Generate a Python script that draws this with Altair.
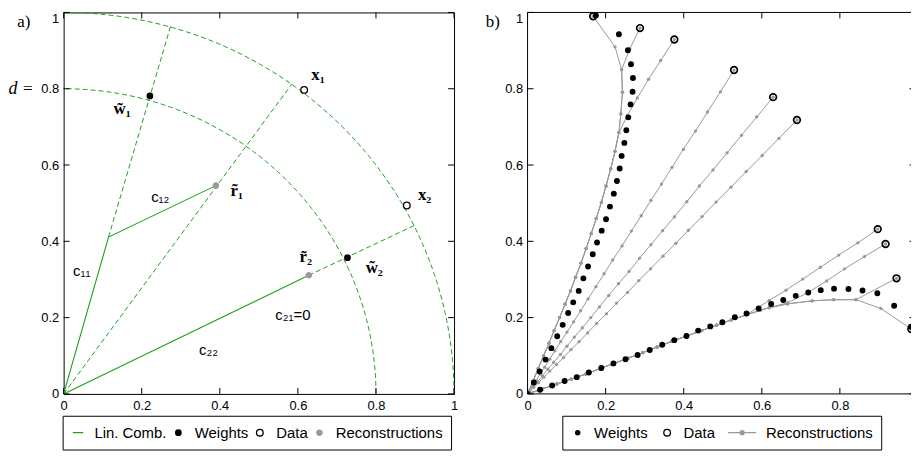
import altair as alt
import numpy as np
import pandas as pd

TICKS = [0, 0.2, 0.4, 0.6, 0.8, 1.0]
TICKS_B_X = [0, 0.2, 0.4, 0.6, 0.8]

# ---------------- panel a values ----------------
A_SERIES = ["Lin. Comb.", "Weights", "Data", "Reconstructions"]
a_weight_x = [0.221, 0.727]
a_weight_y = [0.781, 0.357]
a_data_x = [0.616, 0.879]
a_data_y = [0.797, 0.494]
a_recon_x = [0.390, 0.628]
a_recon_y = [0.546, 0.311]
# solid linear-combination paths
a_comb1_x = [0.0, 0.115, 0.390]
a_comb1_y = [0.0, 0.411, 0.546]
a_comb2_x = [0.0, 0.628]
a_comb2_y = [0.0, 0.311]
# dashed construction rays
a_ray1_x = [0.115, 0.274]
a_ray1_y = [0.411, 0.964]
a_ray2_x = [0.0, 0.585]
a_ray2_y = [0.0, 0.813]
a_ray3_x = [0.628, 0.899]
a_ray3_y = [0.311, 0.442]
a_arc_radii = [0.8, 1.0]

# ---------------- panel b values ----------------
B_SERIES = ["Weights", "Data", "Reconstructions"]
b_wsteep_x = [0, 0.016, 0.031, 0.046, 0.061, 0.076, 0.090, 0.104, 0.117, 0.131, 0.143,
              0.155, 0.167, 0.178, 0.190, 0.201, 0.211, 0.221, 0.229, 0.236, 0.241,
              0.248, 0.253, 0.258, 0.264, 0.269, 0.270, 0.265, 0.257, 0.234, 0.175]
b_wsteep_y = [0, 0.030, 0.059, 0.090, 0.120, 0.151, 0.181, 0.212, 0.240, 0.270, 0.303,
              0.334, 0.366, 0.397, 0.428, 0.458, 0.491, 0.525, 0.558, 0.591, 0.624,
              0.658, 0.691, 0.725, 0.759, 0.792, 0.828, 0.864, 0.901, 0.943, 0.992]
b_wflat_x = [0.032, 0.063, 0.095, 0.126, 0.157, 0.189, 0.220, 0.251, 0.282, 0.313,
             0.345, 0.376, 0.407, 0.437, 0.468, 0.499, 0.531, 0.561, 0.592, 0.624,
             0.655, 0.687, 0.719, 0.751, 0.785, 0.822, 0.858, 0.896, 0.939, 0.982]
b_wflat_y = [0.011, 0.022, 0.034, 0.044, 0.056, 0.068, 0.080, 0.091, 0.102, 0.115,
             0.129, 0.141, 0.152, 0.166, 0.177, 0.188, 0.201, 0.211, 0.224, 0.236,
             0.246, 0.257, 0.266, 0.272, 0.276, 0.275, 0.271, 0.264, 0.231, 0.176]
b_data_x = [0.168, 0.288, 0.376, 0.529, 0.629, 0.690, 0.897, 0.917, 0.945, 0.983]
b_data_y = [0.990, 0.959, 0.929, 0.849, 0.778, 0.718, 0.432, 0.393, 0.303, 0.170]

# shared tails of the reconstruction paths
b_tail_steep_x = [0.241, 0.243, 0.239, 0.234, 0.224, 0.213, 0.201, 0.189, 0.176, 0.163, 0.150,
                  0.137, 0.123, 0.110, 0.096, 0.082, 0.068, 0.055, 0.041, 0.027, 0.014, 0.0]
b_tail_steep_y = [0.850, 0.791, 0.734, 0.685, 0.636, 0.590, 0.545, 0.502, 0.460, 0.420, 0.381,
                  0.343, 0.306, 0.270, 0.235, 0.200, 0.166, 0.133, 0.100, 0.066, 0.033, 0.0]
b_tail_flat_x = [0.841, 0.784, 0.729, 0.666, 0.619, 0.596, 0.560, 0.522, 0.484, 0.446, 0.408,
                 0.370, 0.332, 0.295, 0.258, 0.221, 0.185, 0.149, 0.112, 0.075, 0.038, 0.0]
b_tail_flat_y = [0.247, 0.247, 0.244, 0.236, 0.226, 0.219, 0.207, 0.194, 0.180, 0.166, 0.152,
                 0.138, 0.123, 0.108, 0.094, 0.080, 0.066, 0.052, 0.039, 0.026, 0.013, 0.0]

b_paths = {
    "p1": ([0.168, 0.224] + b_tail_steep_x, [0.990, 0.910] + b_tail_steep_y),
    "p2": ([0.288, 0.262] + b_tail_steep_x, [0.959, 0.905] + b_tail_steep_y),
    "p3": ([0.376, 0.341, 0.310, 0.281, 0.256] + b_tail_steep_x[3:],
           [0.929, 0.874, 0.825, 0.776, 0.730] + b_tail_steep_y[3:]),
    "p4": ([0.529, 0.494, 0.461, 0.430, 0.399, 0.370, 0.343, 0.316, 0.291, 0.266, 0.242, 0.218, 0.196,
            0.175, 0.155, 0.136, 0.118, 0.101, 0.085, 0.070, 0.057, 0.044, 0.032, 0.022, 0.012, 0.004, 0.0],
           [0.849, 0.792, 0.739, 0.689, 0.641, 0.594, 0.550, 0.507, 0.467, 0.427, 0.388, 0.351, 0.315,
            0.281, 0.249, 0.218, 0.189, 0.162, 0.137, 0.113, 0.091, 0.070, 0.052, 0.035, 0.020, 0.007, 0.0]),
    "p5": ([0.629, 0.587, 0.548, 0.511, 0.475, 0.440, 0.408, 0.376, 0.346, 0.316, 0.287, 0.260, 0.233,
            0.208, 0.184, 0.162, 0.140, 0.120, 0.101, 0.084, 0.067, 0.052, 0.038, 0.026, 0.014, 0.005, 0.0],
           [0.778, 0.726, 0.678, 0.632, 0.587, 0.545, 0.504, 0.464, 0.428, 0.391, 0.356, 0.321, 0.289,
            0.258, 0.228, 0.200, 0.173, 0.149, 0.125, 0.103, 0.083, 0.065, 0.047, 0.032, 0.018, 0.006, 0.0]),
    "p6": ([0.690, 0.644, 0.601, 0.560, 0.521, 0.483, 0.447, 0.412, 0.380, 0.347, 0.315, 0.285, 0.256,
            0.228, 0.202, 0.177, 0.154, 0.132, 0.111, 0.092, 0.074, 0.057, 0.042, 0.028, 0.016, 0.006, 0.0],
           [0.718, 0.670, 0.625, 0.583, 0.542, 0.503, 0.465, 0.429, 0.395, 0.361, 0.328, 0.297, 0.266,
            0.238, 0.210, 0.185, 0.160, 0.137, 0.116, 0.095, 0.077, 0.060, 0.044, 0.029, 0.017, 0.006, 0.0]),
    "p7": ([0.897, 0.846, 0.797, 0.750, 0.705, 0.662, 0.619] + b_tail_flat_x[6:],
           [0.432, 0.396, 0.364, 0.332, 0.301, 0.272, 0.245] + b_tail_flat_y[6:]),
    "p8": ([0.917, 0.863, 0.812, 0.766, 0.717, 0.666] + b_tail_flat_x[4:],
           [0.393, 0.360, 0.328, 0.296, 0.265, 0.239] + b_tail_flat_y[4:]),
    "p9": ([0.945] + b_tail_flat_x, [0.303] + b_tail_flat_y),
    "p10": ([0.983, 0.905] + b_tail_flat_x, [0.170, 0.224] + b_tail_flat_y),
}

# ---------------- styling ----------------
GREEN = "#1f9f1f"
GRAY = "#999999"
SANS = "Liberation Sans"
SERIF = "Liberation Serif"
UNIT = 393          # pixels per data unit in x
W_A, W_B, H = 393, 386, 384
XMAX_B = W_B / UNIT
TICK_LEN = 6

SC_Y = alt.Scale(domain=[0, 1], nice=False, zero=False)
SC_XA = alt.Scale(domain=[0, 1], nice=False, zero=False)
SC_XB = alt.Scale(domain=[0, XMAX_B], nice=False, zero=False)
AX_XA = alt.Axis(values=TICKS, format="~g", ticks=False, domain=False, grid=False, title=None,
                 labelFlush=False, labelOverlap=False, labelPadding=6)
AX_XB = alt.Axis(values=TICKS_B_X, format="~g", ticks=False, domain=False, grid=False, title=None,
                 labelFlush=False, labelOverlap=False, labelPadding=6)
AX_Y = alt.Axis(values=TICKS, format="~g", ticks=False, domain=False, grid=False, title=None,
                labelOverlap=False, labelPadding=5, labelFlush=False,
                labelBaseline={"condition": {"test": "datum.value == 1", "value": "top"},
                               "value": "middle"})


def make_pos(sc_x, ax_x):
    def X(f="x"):
        return alt.X(f"{f}:Q", scale=sc_x, axis=ax_x)

    def XD(v):
        return alt.XDatum(v, type="quantitative", scale=sc_x, axis=ax_x)
    return X, XD


def Y(f="y"):
    return alt.Y(f"{f}:Q", scale=SC_Y, axis=AX_Y)


def YD(v):
    return alt.YDatum(v, type="quantitative", scale=SC_Y, axis=AX_Y)


XA, XDA = make_pos(SC_XA, AX_XA)
XB, XDB = make_pos(SC_XB, AX_XB)

ONE = pd.DataFrame({"k": [0]})


def note(text, x, y, dx, dy, font=SERIF, size=17, weight="bold"):
    return alt.Chart(ONE).mark_text(
        text=text, dx=dx, dy=dy, font=font, fontSize=size, fontWeight=weight,
        color="black", align="center", baseline="middle"
    ).encode(x=XDA(x), y=YD(y))


def pix_note(text, px, py, size=17):
    return alt.Chart(ONE).mark_text(
        text=text, font=SERIF, fontSize=size, color="black",
        align="center", baseline="middle"
    ).encode(x=alt.value(px), y=alt.value(py))


def frame_ticks(X, width, xticks, right_len):
    """Inward-pointing frame ticks on all four sides (gnuplot style)."""
    tx = pd.DataFrame({"x": xticks})
    ty = pd.DataFrame({"y": TICKS})
    rule = dict(color="black", strokeWidth=1)
    return [
        alt.Chart(tx).mark_rule(**rule).encode(x=X(), y=alt.value(0), y2=alt.value(TICK_LEN)),
        alt.Chart(tx).mark_rule(**rule).encode(x=X(), y=alt.value(H - TICK_LEN), y2=alt.value(H)),
        alt.Chart(ty).mark_rule(**rule).encode(y=Y(), x=alt.value(0), x2=alt.value(TICK_LEN)),
        alt.Chart(ty).mark_rule(**rule).encode(y=Y(), x=alt.value(width - right_len),
                                               x2=alt.value(width)),
    ]


def legend(lx, ly, pad, colpad):
    return alt.Legend(title=None, orient="none", legendX=lx, legendY=ly, direction="horizontal",
                      strokeColor="black", fillColor="white", padding=pad, columnPadding=colpad,
                      labelFont=SANS, labelFontSize=15, labelColor="black", labelOffset=9,
                      symbolStrokeWidth=1.3, clipHeight=18)


def series_enc(domain, strokes, fills, shapes, sizes, leg):
    return dict(
        stroke=alt.Stroke("series:N", scale=alt.Scale(domain=domain, range=strokes), legend=leg),
        fill=alt.Fill("series:N", scale=alt.Scale(domain=domain, range=fills), legend=leg),
        shape=alt.Shape("series:N", scale=alt.Scale(domain=domain, range=shapes), legend=leg),
        size=alt.Size("series:N", scale=alt.Scale(type="ordinal", domain=domain, range=sizes),
                      legend=leg),
    )


# ================= panel a =================
leg_a = legend(-1, 406, 8, 4)
a_strokes = [GREEN, "black", "black", GRAY]
a_fills = ["transparent", "black", "transparent", GRAY]
a_shapes = ["stroke", "circle", "circle", "circle"]
a_sizes = [110, 30, 45, 28]
enc_a = series_enc(A_SERIES, a_strokes, a_fills, a_shapes, a_sizes, leg_a)

theta = np.linspace(0, np.pi / 2, 90)
dash_rows = []
for r in a_arc_radii:
    for i, t in enumerate(theta):
        dash_rows.append({"g": f"arc{r}", "i": i, "x": r * np.cos(t), "y": r * np.sin(t)})
for name, (rx, ry) in {"r1": (a_ray1_x, a_ray1_y), "r2": (a_ray2_x, a_ray2_y),
                       "r3": (a_ray3_x, a_ray3_y)}.items():
    for i, (x, y) in enumerate(zip(rx, ry)):
        dash_rows.append({"g": name, "i": i, "x": x, "y": y})
dashed_df = pd.DataFrame(dash_rows)

comb_rows = []
for name, (cx, cy) in {"c1": (a_comb1_x, a_comb1_y), "c2": (a_comb2_x, a_comb2_y)}.items():
    for i, (x, y) in enumerate(zip(cx, cy)):
        comb_rows.append({"g": name, "i": i, "x": x, "y": y, "series": "Lin. Comb."})
comb_df = pd.DataFrame(comb_rows)

pts_a = pd.DataFrame({
    "x": a_weight_x + a_data_x + a_recon_x,
    "y": a_weight_y + a_data_y + a_recon_y,
    "series": ["Weights"] * 2 + ["Data"] * 2 + ["Reconstructions"] * 2,
})

dashed_a = alt.Chart(dashed_df).mark_line(color=GREEN, strokeWidth=1, strokeDash=[5, 3]).encode(
    x=XA(), y=Y(), detail="g:N", order="i:Q")
comb_a = alt.Chart(comb_df).mark_line(strokeWidth=1.1).encode(
    x=XA(), y=Y(), detail="g:N", order="i:Q", stroke=enc_a["stroke"])
points_a = alt.Chart(pts_a).mark_point(strokeWidth=1.3, opacity=1).encode(x=XA(), y=Y(), **enc_a)

labels_a = [
    note("x\u2081", a_data_x[0], a_data_y[0], 14, -15),
    note("x\u2082", a_data_x[1], a_data_y[1], 18, -10),
    note("w\u0303\u2081", a_weight_x[0], a_weight_y[0], -28, 13),
    note("w\u0303\u2082", a_weight_x[1], a_weight_y[1], 27, 10),
    note("r\u0303\u2081", a_recon_x[0], a_recon_y[0], 21, 5),
    note("r\u0303\u2082", a_recon_x[1], a_recon_y[1], -3, -18),
    note("c\u2081\u2082", a_recon_x[0], a_recon_y[0], -56, 11, font=SANS, size=15, weight="normal"),
    note("c\u2081\u2081", a_comb1_x[1], a_comb1_y[1], -27, 34, font=SANS, size=15, weight="normal"),
    note("c\u2082\u2082", a_recon_x[1], a_recon_y[1], -101, 75, font=SANS, size=15, weight="normal"),
    note("c\u2082\u2081=0", a_recon_x[1], a_recon_y[1], -16, 40, font=SANS, size=15, weight="normal"),
    alt.Chart(ONE).mark_text(text="d", font=SERIF, fontSize=18, fontStyle="italic", color="black",
                             align="center", baseline="middle").encode(x=alt.value(-51), y=YD(0.8)),
    alt.Chart(ONE).mark_text(text="=", font=SERIF, fontSize=17, color="black",
                             align="center", baseline="middle").encode(x=alt.value(-36), y=YD(0.8)),
    pix_note("a)", -40, 10),
]

panel_a = alt.layer(dashed_a, comb_a, points_a, *labels_a,
                    *frame_ticks(XA, W_A, TICKS, TICK_LEN)).properties(width=W_A, height=H)

# ================= panel b =================
leg_b = legend(35, 406, 8, 12)
RECON_SYMBOL = "M-1,0L1,0M-0.14,0A0.14,0.14,0,1,1,0.14,0A0.14,0.14,0,1,1,-0.14,0Z"
b_strokes = ["black", "black", GRAY]
b_fills = ["black", "transparent", GRAY]
b_shapes = ["circle", "circle", RECON_SYMBOL]
b_sizes = [18, 45, 800]
enc_b = series_enc(B_SERIES, b_strokes, b_fills, b_shapes, b_sizes, leg_b)

rec_rows = []
for name, (px, py) in b_paths.items():
    for i, (x, y) in enumerate(zip(px, py)):
        rec_rows.append({"g": name, "i": i, "x": x, "y": y, "series": "Reconstructions"})
rec_df = pd.DataFrame(rec_rows)

pts_b = pd.DataFrame({
    "x": b_wsteep_x + b_wflat_x + b_data_x,
    "y": b_wsteep_y + b_wflat_y + b_data_y,
    "series": ["Weights"] * (len(b_wsteep_x) + len(b_wflat_x)) + ["Data"] * len(b_data_x),
})

rec_lines = alt.Chart(rec_df).mark_line(strokeWidth=1, clip=True).encode(
    x=XB(), y=Y(), detail="g:N", order="i:Q", stroke=enc_b["stroke"])
rec_dots = alt.Chart(rec_df).mark_circle(size=11, color=GRAY, opacity=1, clip=True).encode(
    x=XB(), y=Y())
points_b = alt.Chart(pts_b).mark_point(strokeWidth=1.7, opacity=1, clip=True).encode(
    x=XB(), y=Y(), **enc_b)

frame_b = [
    alt.Chart(ONE).mark_rule(color="black", strokeWidth=1).encode(
        x=alt.value(0), x2=alt.value(W_B), y=alt.value(0)),
    alt.Chart(ONE).mark_rule(color="black", strokeWidth=1).encode(
        x=alt.value(0), x2=alt.value(W_B), y=alt.value(H)),
    alt.Chart(ONE).mark_rule(color="black", strokeWidth=1).encode(
        x=alt.value(0), y=alt.value(0), y2=alt.value(H)),
]

panel_b = alt.layer(rec_lines, rec_dots, points_b, pix_note("b)", -35, 10),
                    *frame_b, *frame_ticks(XB, W_B, TICKS_B_X, 1.5)).properties(
    width=W_B, height=H, view=alt.ViewBackground(stroke=None))

chart = alt.hconcat(panel_a, panel_b, spacing=26).resolve_scale(
    x="independent", y="independent", stroke="independent", fill="independent",
    shape="independent", size="independent"
).resolve_legend(
    stroke="independent", fill="independent", shape="independent", size="independent"
).properties(
    padding={"left": 0, "top": 0, "right": 0, "bottom": 0}, background="white"
).configure_view(
    stroke="black", strokeWidth=1
).configure_axis(
    labelFont=SANS, labelFontSize=13, labelColor="black"
)

chart.save("out.html", embed_options={"renderer": "svg", "actions": False})
